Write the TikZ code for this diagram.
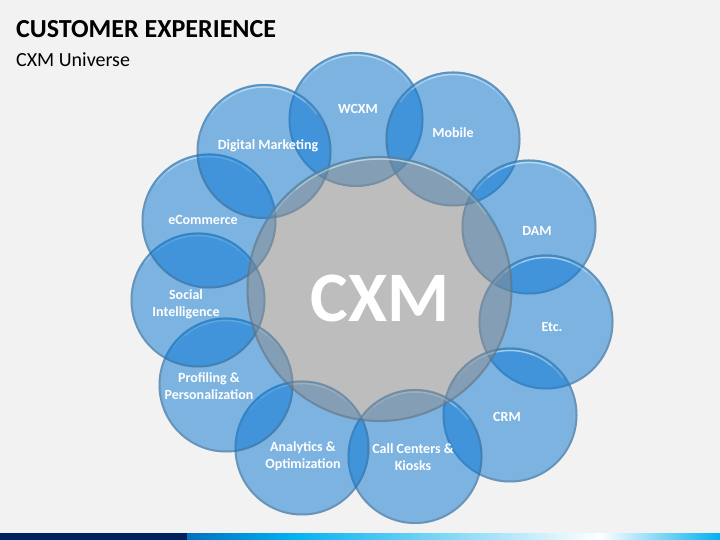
\documentclass[tikz,border=0pt]{standalone}
\usepackage{fontspec}
\setmainfont{Carlito}
\usetikzlibrary{calc}
\definecolor{pagebg}{HTML}{F2F2F2}
\definecolor{bubble}{HTML}{0876D2}
\definecolor{hubgrey}{HTML}{8A8A8A}
\definecolor{rimlow}{HTML}{4A5F70}
\definecolor{rimhigh}{HTML}{3F95D8}
\definecolor{shine}{HTML}{D8EEFC}
\definecolor{navy}{HTML}{002060}
\definecolor{barA}{HTML}{0070C0}
\definecolor{barB}{HTML}{00B0F0}
\tikzset{
  bubblebody/.style={circle,inner sep=0pt,minimum size=135pt,fill=bubble,fill opacity=.5},
  hubbody/.style={circle,inner sep=0pt,minimum size=266pt,fill=hubgrey,fill opacity=.5},
  lbl/.style={text=white,font=\fontsize{14}{17.2}\selectfont\bfseries,align=center,inner sep=0pt},
}
% #1 centre coordinate, #2 radius
\newcommand{\rimlines}[2]{%
  \draw[rimlow,opacity=.36,line width=2pt] (#1) circle (#2-1pt);
  \draw[rimhigh,opacity=.35,line width=2pt] ($(#1)+(25:#2-1pt)$) arc (25:155:#2-1pt);
  \draw[shine,opacity=.22,line width=1.6pt] ($(#1)+(35:#2-3pt)$) arc (35:145:#2-3pt);
  \draw[shine,opacity=.3,line width=1.4pt] ($(#1)+(50:#2-3pt)$) arc (50:130:#2-3pt);
  \draw[shine,opacity=.35,line width=1.2pt] ($(#1)+(68:#2-3pt)$) arc (68:112:#2-3pt);
}
\begin{document}
\begin{tikzpicture}[x=1pt,y=1pt]
\useasboundingbox (0,0) rectangle (720,540);
\fill[pagebg] (0,0) rectangle (720,540);
% footer band
\fill[navy] (0,0) rectangle (187,6.5);
\shade[left color=barA,right color=barB] (187,0) rectangle (290,6.5);
\shade[left color=barB,right color=white] (290,0) rectangle (600,6.5);
\shade[left color=white,right color=barB] (600,0) rectangle (720,6.5);
% title
\node[anchor=base west,inner sep=0pt,font=\fontsize{26}{30}\selectfont\bfseries,text=black] (title) at (16,502) {CUSTOMER EXPERIENCE};
\node[anchor=base west,inner sep=0pt,font=\fontsize{20}{24}\selectfont,text=black] (subtitle) at (16,473.5) {CXM Universe};
% bubbles
\foreach \nm/\cx/\cy in {
  wcxm/356/119.5, mobile/453/139, dam/529/227, etc/546/322, crm/510/415,
  call/415/456.5, analytics/302/448, profiling/226/385, social/198/300,
  ecom/209/221, digital/264/151.5}{
  \coordinate (c\nm) at (\cx,540-\cy);
  \node[bubblebody] (b\nm) at (c\nm) {};
  \rimlines{c\nm}{67.5pt}
}
% hub
\coordinate (chub) at (379.5,540-289);
\node[hubbody] (hub) at (chub) {};
\rimlines{chub}{133pt}
% labels
\node[lbl] (lwcxm) at (358,540-109) {WCXM};
\node[lbl] (lmobile) at (453,540-133) {Mobile};
\node[lbl] (ldam) at (537,540-231) {DAM};
\node[lbl] (letc) at (552,540-327) {Etc.};
\node[lbl] (lcrm) at (507,540-417) {CRM};
\node[lbl] (lcall) at (413,540-457.5) {Call Centers \&\\Kiosks};
\node[lbl] (lanalytics) at (303,540-456.5) {Analytics \&\\Optimization};
\node[lbl] (lprofiling) at (209,540-386.5) {Profiling \&\\Personalization};
\node[lbl] (lsocial) at (186,540-304.5) {Social\\Intelligence};
\node[lbl] (lecom) at (203,540-220) {eCommerce};
\node[lbl] (ldigital) at (268,540-146) {Digital Marketing};
\node[text=white,inner sep=0pt,font=\fontsize{71}{74}\selectfont\bfseries] (lhub) at (380,540-298.5) {CXM};
\end{tikzpicture}
\end{document}
